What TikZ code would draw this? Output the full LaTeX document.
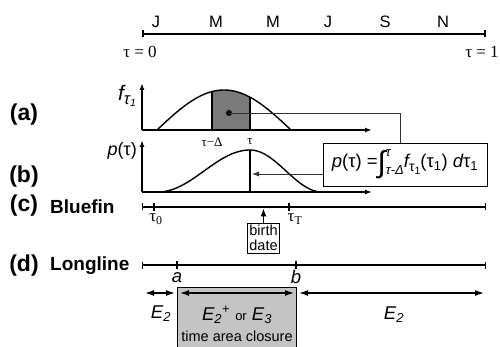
\documentclass[tikz,border=0pt]{standalone}
\usepackage{fontspec}
\setmainfont{Liberation Sans}
\newfontfamily\grk{Liberation Serif}
\usetikzlibrary{arrows.meta,positioning,calc}
\definecolor{clShade}{HTML}{7A7A7A}
\definecolor{clClosure}{HTML}{C4C4C4}
\tikzset{
  panel/.style={font=\fontsize{23}{23}\selectfont\bfseries, inner sep=0pt},
  fishery/.style={font=\fontsize{19}{19}\selectfont\bfseries, anchor=west, inner sep=0pt},
  month/.style={font=\fontsize{16.5}{16.5}\selectfont},
  tlabel/.style={font=\fontsize{17}{17}\selectfont\grk, inner sep=0pt},
  small/.style={font=\fontsize{13}{13}\selectfont\grk, inner sep=0pt},
  axis/.style={-{Latex[length=7pt,width=5pt]}, line width=1.6pt},
  timeline/.style={{Bar[width=7pt]}-{Bar[width=7pt]}, line width=1.3pt},
  tick/.style={line width=1.3pt},
  curve/.style={line width=1.4pt},
  both/.style={{Latex[length=9pt,width=6pt]}-{Latex[length=9pt,width=6pt]}, line width=1.3pt},
  callout/.style={line width=0.8pt, draw=black!80},
  eqbox/.style={draw, line width=0.8pt, minimum width=164pt, minimum height=43pt,
                inner sep=0pt, font=\fontsize{18.5}{18.5}\selectfont},
  note/.style={draw, line width=0.8pt, align=center, inner sep=2pt,
               font=\fontsize{14.5}{15.5}\selectfont},
  elabel/.style={font=\fontsize{18.5}{18.5}\selectfont, inner sep=0pt},
}
\newcommand{\tsub}[2]{#1\raisebox{-4pt}{\fontsize{#2}{#2}\selectfont τ\raisebox{-2.5pt}{\fontsize{10.5}{10.5}\selectfont 1}}}
\newcommand{\intlim}[1]{\fontsize{13}{13}\selectfont\itshape #1}

\begin{document}
\begin{tikzpicture}[x=1pt, y=-1pt]
  \useasboundingbox (0,0) rectangle (500,347);
  % season axis
  \coordinate (s0) at (142,34);
  \coordinate (s1) at (486,34);
  \draw[timeline, line width=2pt] (s0) -- (s1);
  \foreach \m/\x in {J/156, M/216, M/273, J/328, S/385, N/443}
    \node[month] (m\x) at (\x,22) {\m};
  \node[tlabel] (tzero) at (140,52) {τ = 0};
  \node[tlabel] (tone) at (482,52) {τ = 1};

  % (a) emigration density
  \node[panel] (la) at (24,115) {(a)};
  \coordinate (ao) at (142,130);
  \fill[clShade] (212,130) -- plot[domain=212:250, samples=20] (\x,{130-40*sin((\x-157)/134*180)}) -- (250,130) -- cycle;
  \draw[curve] (212,130) -- (212,{130-40*sin(55/134*180)});
  \draw[curve] (250,130) -- (250,{130-40*sin(93/134*180)});
  \draw[curve] plot[domain=157:291, samples=60] (\x,{130-40*sin((\x-157)/134*180)});
  \draw[axis] (ao) -- (142,83);
  \draw[axis] (ao) -- (372,130);
  \node[font=\fontsize{21}{21}\selectfont\itshape, inner sep=0pt] (fa) at (127,96)
    {\tsub{f}{16.5}};
  \node[small] (tdl) at (212,142) {τ−Δ};
  \node[small] (tdr) at (250,142) {τ};
  \node[circle, fill, inner sep=0pt, minimum size=6pt] (dot) at (229,113) {};

  % (b) birth date probability
  \node[panel] (lb) at (24,177) {(b)};
  \coordinate (bo) at (142,192);
  \draw[curve] plot[domain=158:250, samples=50] (\x,{192-21*(1+cos((\x-250)/92*180))})
    -- plot[domain=250:322, samples=40] (\x,{192-21*(1+cos((\x-250)/72*180))});
  \draw[curve] (250,150) -- (250,192);
  \draw[axis] (bo) -- (142,140);
  \draw[axis] (bo) -- (372,192);
  \node[font=\fontsize{18}{18}\selectfont, inner sep=0pt, anchor=east] (pb) at (137,151)
    {\itshape p\upshape(τ)};

  % formula
  \node[eqbox] (eq) at (405,164.5)
    {{\itshape p}(τ) =\raisebox{-5pt}{\fontsize{30}{30}\selectfont ∫}%
     \makebox[0pt][l]{\raisebox{11pt}{\intlim{τ}}}\raisebox{-7pt}{\intlim{τ-Δ}}%
     \tsub{{\itshape f}}{14}(τ\textsubscript{1}) {\itshape d}τ\textsubscript{1}};
  \draw[callout] (dot.center) -| ([xshift=-5pt]eq.north);
  \coordinate (pin) at (252,174);
  \draw[callout, -{Latex[length=7pt,width=5pt]}] ([yshift=-9.5pt]eq.west) -- (pin);

  % (c) bluefin
  \node[panel] (lc) at (24,206) {(c)};
  \node[fishery] (bf) at (50,207) {Bluefin};
  \coordinate (c0) at (142,207);
  \coordinate (c1) at (486,207);
  \draw[timeline] (c0) -- (c1);
  \coordinate (t0) at (154,207);
  \coordinate (tT) at (289,207);
  \foreach \n in {t0,tT}
    \draw[tick] ([yshift=4pt]\n) -- ([yshift=-4pt]\n);
  \node[tlabel] (lt0) at (156,219) {τ\textsubscript{0}};
  \node[tlabel] (ltT) at (295,219) {τ\textsubscript{T}};
  \node[note] (birth) at (263.5,238) {birth\\date};
  \draw[-{Latex[length=8pt,width=6pt]}, line width=1.1pt] (birth.north) -- ([yshift=-1.5pt]birth.north |- c0);

  % (d) longline
  \node[panel] (ld) at (24,266) {(d)};
  \node[fishery] (ll) at (50,266) {Longline};
  \coordinate (d0) at (142,265);
  \coordinate (d1) at (486,265);
  \draw[timeline] (d0) -- (d1);
  \coordinate (da) at (177,265);
  \coordinate (db) at (296,265);
  \foreach \n in {da,db}
    \draw[tick] ([yshift=4pt]\n) -- ([yshift=-4pt]\n);
  \node[elabel, font=\fontsize{18.5}{18.5}\selectfont\itshape] (la2) at (177,278) {a};
  \node[elabel, font=\fontsize{18.5}{18.5}\selectfont\itshape] (lb2) at (296,277) {b};
  \node[draw, fill=clClosure, line width=0.8pt, anchor=north west, inner sep=0pt,
        minimum width=119pt, minimum height=64pt] (closure) at (177,287) {};
  \coordinate (e0) at (145,293);
  \coordinate (e1) at (175,293);
  \coordinate (e2) at (180,293);
  \coordinate (e3) at (294,293);
  \coordinate (e4) at (299,293);
  \coordinate (e5) at (484,293);
  \draw[both] (e0) -- (e1);
  \draw[both] (e2) -- (e3);
  \draw[both] (e4) -- (e5);
  \node[elabel] (eleft) at (161,314) {\itshape E\textsubscript{2}};
  \node[elabel] (emid) at (237,315)
    {\itshape E\textsubscript{2}\textsuperscript{\upshape +} {\upshape\fontsize{13}{13}\selectfont or} E\textsubscript{3}};
  \node[font=\fontsize{14.5}{15}\selectfont, inner sep=0pt] (tac) at (237,336) {time area closure};
  \node[elabel] (eright) at (394,315) {\itshape E\textsubscript{2}};
\end{tikzpicture}
\end{document}
